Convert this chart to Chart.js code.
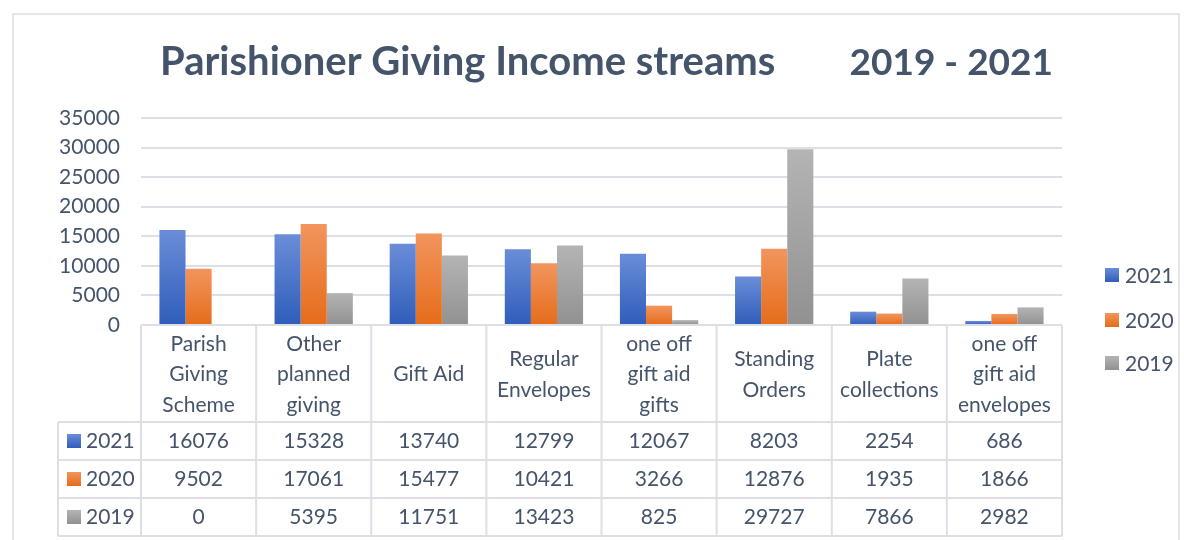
<!DOCTYPE html>
<html>
<head>
<meta charset="utf-8">
<script src="https://cdn.jsdelivr.net/npm/chart.js@4/dist/chart.umd.min.js"></script>
<style>
  html, body { margin: 0; padding: 0; background: #fff; }
  #wrap { position: relative; width: 1184px; height: 540px; overflow: hidden; }
  #frame { position: absolute; left: 12px; top: 13px; width: 1168px; height: 540px; border: 2px solid #E3E6EA; box-sizing: border-box; }
  canvas { position: absolute; left: 0; top: 0; }
</style>
</head>
<body>
<div id="wrap">
  <div id="frame"></div>
  <canvas id="giving" width="1184" height="540"></canvas>
</div>
<script>
// data (its data table)
var categories = [
  ['Parish', 'Giving', 'Scheme'],
  ['Other', 'planned', 'giving'],
  ['Gift Aid'],
  ['Regular', 'Envelopes'],
  ['one off', 'gift aid', 'gifts'],
  ['Standing', 'Orders'],
  ['Plate', 'collections'],
  ['one off', 'gift aid', 'envelopes']
];
var seriesNames = ['2021', '2020', '2019'];
var values2021 = [16076, 15328, 13740, 12799, 12067, 8203, 2254, 686];
var values2020 = [9502, 17061, 15477, 10421, 3266, 12876, 1935, 1866];
var values2019 = [0, 5395, 11751, 13423, 825, 29727, 7866, 2982];
var yTicks = [0, 5000, 10000, 15000, 20000, 25000, 30000, 35000];
var titleLeft = 'Parishioner Giving Income streams';
var titleRight = '2019 - 2021';

var TEXT = '#44546A';
var LINE = '#DCE0E6';
var FONT = 'Lato, "Open Sans", sans-serif';
var shades = [
  { top: '#6A8DD8', bottom: '#2F5DBA' },
  { top: '#F2955E', bottom: '#E56C1A' },
  { top: '#B4B4B4', bottom: '#919191' }
];

function barFill(i) {
  return function (ctx) {
    var chart = ctx.chart;
    if (!chart.chartArea || ctx.type !== 'data') return shades[i].bottom;
    var y = chart.scales.y;
    var top = y.getPixelForValue(ctx.raw), bottom = y.getPixelForValue(0);
    if (bottom - top < 1) return shades[i].bottom;
    var g = chart.ctx.createLinearGradient(0, top, 0, bottom);
    g.addColorStop(0, shades[i].top);
    g.addColorStop(1, shades[i].bottom);
    return g;
  };
}

function keyBox(c, x, y, i) {
  var g = c.createLinearGradient(0, y, 0, y + 14);
  g.addColorStop(0, shades[i].top);
  g.addColorStop(1, shades[i].bottom);
  c.fillStyle = g;
  c.fillRect(x, y, 14, 14);
}

// title, legend and data table under the plot
var extras = {
  id: 'extras',
  afterDraw: function (chart) {
    var c = chart.ctx, x = chart.scales.x, area = chart.chartArea;
    var rows = [values2021, values2020, values2019];
    var step = x.getPixelForValue(1) - x.getPixelForValue(0);
    var rowLines = [422, 460, 498, 536];
    c.save();

    // title
    c.fillStyle = TEXT;
    c.textBaseline = 'alphabetic';
    c.textAlign = 'left';
    c.font = 'bold 40px ' + FONT;
    c.fillText(titleLeft, 160, 75);
    c.textAlign = 'right';
    c.font = 'bold 37px ' + FONT;
    c.fillText(titleRight, 1053, 75);

    // legend
    c.font = '21px ' + FONT;
    c.textAlign = 'left';
    c.textBaseline = 'middle';
    var legY = [275, 320, 363];
    seriesNames.forEach(function (n, i) {
      keyBox(c, 1105, legY[i] - 7, i);
      c.fillStyle = TEXT;
      c.fillText(n, 1125, legY[i] + 1);
    });

    // table lines
    c.strokeStyle = LINE;
    c.lineWidth = 2;
    c.beginPath();
    for (var k = 0; k <= categories.length; k++) {
      var ex = x.getPixelForValue(0) - step / 2 + k * step;
      c.moveTo(ex, area.bottom);
      c.lineTo(ex, rowLines[3]);
    }
    c.moveTo(58, rowLines[0]);
    c.lineTo(58, rowLines[3]);
    rowLines.forEach(function (ry) {
      c.moveTo(58, ry);
      c.lineTo(area.right, ry);
    });
    c.stroke();

    // header cells
    c.fillStyle = TEXT;
    c.textAlign = 'center';
    var mid = (area.bottom + rowLines[0]) / 2 + 1;
    categories.forEach(function (lines, i) {
      var cx = x.getPixelForValue(i);
      var y0 = mid - (lines.length - 1) * 30.5 / 2;
      lines.forEach(function (t, j) { c.fillText(t, cx, y0 + j * 30.5); });
    });

    // value rows
    rows.forEach(function (vals, r) {
      var cy = (rowLines[r] + rowLines[r + 1]) / 2;
      keyBox(c, 67, cy - 7, r);
      c.fillStyle = TEXT;
      c.textAlign = 'left';
      c.fillText(seriesNames[r], 86, cy);
      c.textAlign = 'center';
      vals.forEach(function (v, i) { c.fillText(String(v), x.getPixelForValue(i), cy); });
    });
    c.restore();
  }
};

new Chart(document.getElementById('giving').getContext('2d'), {
  type: 'bar',
  data: {
    labels: categories,
    datasets: [
      { label: seriesNames[0], data: values2021, backgroundColor: barFill(0) },
      { label: seriesNames[1], data: values2020, backgroundColor: barFill(1) },
      { label: seriesNames[2], data: values2019, backgroundColor: barFill(2) }
    ]
  },
  options: {
    responsive: false,
    animation: false,
    layout: { padding: { top: 118, right: 122, bottom: 215, left: 0 } },
    datasets: { bar: { categoryPercentage: 0.68, barPercentage: 1, borderWidth: 0 } },
    plugins: { legend: { display: false }, title: { display: false }, tooltip: { enabled: false } },
    scales: {
      x: { display: false },
      y: {
        min: 0, max: 35000,
        afterBuildTicks: function (s) { s.ticks = yTicks.map(function (v) { return { value: v }; }); },
        afterFit: function (s) { s.width = 141; },
        border: { display: false },
        grid: { color: LINE, lineWidth: 2, drawTicks: false },
        ticks: {
          color: TEXT, font: { family: FONT, size: 21 }, padding: 21,
          callback: function (v) { return String(v); }
        }
      }
    }
  },
  plugins: [extras]
});
</script>
</body>
</html>
